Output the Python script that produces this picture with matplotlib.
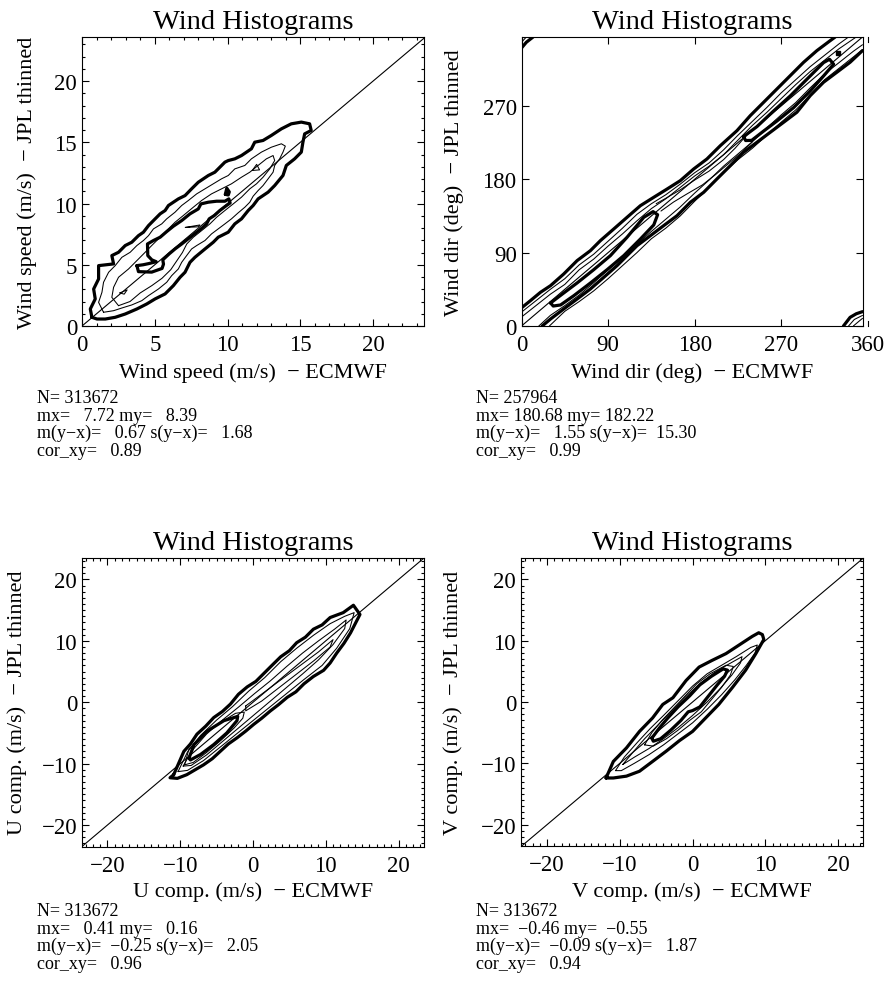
import matplotlib
matplotlib.use('Agg')
import matplotlib.pyplot as plt
import matplotlib.transforms as mtransforms
from matplotlib.ticker import MultipleLocator, NullLocator

plt.rcParams['font.family'] = ['Liberation Serif', 'DejaVu Serif']
plt.rcParams['axes.unicode_minus'] = True

# ---- text / stats ----
titles = ['Wind Histograms'] * 4
xlabels = ['Wind speed (m/s)  \u2212 ECMWF', 'Wind dir (deg)  \u2212 ECMWF',
           'U comp. (m/s)  \u2212 ECMWF', 'V comp. (m/s)  \u2212 ECMWF']
ylabels = ['Wind speed (m/s)  \u2212 JPL thinned', 'Wind dir (deg)  \u2212 JPL thinned',
           'U comp. (m/s)  \u2212 JPL thinned', 'V comp. (m/s)  \u2212 JPL thinned']
n_obs = [313672, 257964, 313672, 313672]
mean_x = [7.72, 180.68, 0.41, -0.46]
mean_y = [8.39, 182.22, 0.16, -0.55]
mean_diff = [0.67, 1.55, -0.25, -0.09]
std_diff = [1.68, 15.30, 2.05, 1.87]
cor_xy = [0.89, 0.99, 0.96, 0.94]

# ---- contour outlines (data units) ----
# wind speed
speed_c1 = [(0.68, 0.71), (0.57, 1.39), (0.91, 2.21), (0.80, 3.02), (1.14, 3.84), (1.14, 4.93),
            (2.17, 5.07), (2.05, 5.75), (2.51, 6.02), (2.97, 6.57), (3.42, 6.84), (3.88, 7.38),
            (4.22, 7.66), (4.57, 8.20), (4.91, 8.61), (5.37, 9.16), (5.71, 9.43), (5.94, 9.84),
            (6.62, 10.38), (7.08, 10.65), (7.53, 11.20), (7.99, 11.74), (8.68, 12.29), (9.13, 12.56),
            (9.82, 13.38), (10.05, 13.51), (10.50, 13.65), (10.96, 13.92), (11.64, 14.47),
            (11.87, 15.01), (12.44, 15.15), (13.01, 15.56), (13.70, 16.10), (14.38, 16.51),
            (15.07, 16.65), (15.64, 16.51), (15.75, 15.97), (15.30, 15.69), (15.18, 15.01),
            (15.07, 14.20), (14.61, 13.65), (14.04, 13.11), (13.81, 12.29), (13.24, 11.47),
            (12.79, 10.93), (12.10, 10.38), (11.76, 9.84), (11.42, 9.43), (10.96, 8.75),
            (10.50, 8.34), (10.05, 7.66), (9.36, 7.25), (9.02, 6.84), (8.45, 6.29), (7.76, 5.61),
            (7.42, 5.20), (7.08, 4.39), (6.74, 3.98), (6.28, 3.30), (5.71, 2.62), (5.02, 2.21),
            (4.45, 1.80), (3.77, 1.39), (2.97, 0.98), (2.28, 0.71), (1.60, 0.57), (1.03, 0.57)]
speed_c2 = [(1.48, 1.12), (1.14, 1.93), (1.37, 2.75), (1.48, 3.57), (1.83, 4.39), (2.28, 4.93),
            (2.74, 5.61), (3.31, 6.02), (3.77, 6.57), (4.22, 6.98), (4.57, 7.38), (4.91, 7.93),
            (5.48, 8.34), (5.82, 8.75), (6.39, 9.29), (6.85, 9.84), (7.31, 10.25), (7.88, 10.79),
            (8.45, 11.20), (9.02, 11.61), (9.59, 12.02), (10.05, 12.29), (10.50, 12.83),
            (11.19, 13.11), (11.64, 13.65), (12.33, 14.20), (13.01, 14.60), (13.70, 14.88),
            (13.97, 14.69), (13.81, 14.20), (13.58, 13.65), (13.24, 13.11), (13.13, 12.56),
            (12.79, 12.02), (12.44, 11.47), (12.10, 11.06), (11.76, 10.60), (11.53, 10.11),
            (11.19, 9.70), (10.73, 9.24), (10.27, 8.75), (9.82, 8.34), (9.36, 7.93), (8.90, 7.52),
            (8.45, 6.98), (7.88, 6.57), (7.53, 6.29), (7.19, 5.75), (6.85, 5.20), (6.62, 4.66),
            (6.16, 4.11), (5.82, 3.57), (5.25, 3.02), (4.57, 2.48), (4.11, 2.07), (3.42, 1.72),
            (2.74, 1.47), (2.17, 1.25)]
speed_c3 = [(2.51, 1.66), (2.05, 2.34), (2.17, 3.16), (2.51, 3.98), (3.20, 4.66), (3.77, 5.34),
            (4.34, 6.02), (4.79, 6.57), (5.25, 7.11), (5.82, 7.79), (6.39, 8.47), (6.96, 9.02),
            (7.65, 9.70), (8.22, 10.25), (8.90, 10.79), (9.59, 11.20), (10.27, 11.61),
            (10.96, 12.15), (11.53, 12.56), (12.10, 13.11), (12.67, 13.65), (13.13, 13.92),
            (13.24, 13.51), (12.90, 12.83), (12.44, 12.15), (11.99, 11.61), (11.53, 11.20),
            (10.96, 10.52), (10.39, 9.97), (9.82, 9.43), (9.25, 8.88), (8.79, 8.34), (8.22, 7.79),
            (7.65, 7.25), (7.20, 6.70), (6.90, 6.00), (6.50, 5.30), (6.10, 4.60), (5.50, 3.90),
            (4.80, 3.30), (4.00, 2.70), (3.30, 2.00)]
speed_c4 = [(3.77, 4.93), (3.88, 4.44), (4.79, 4.40), (5.50, 4.70), (5.60, 5.05), (5.55, 5.40),
            (6.00, 5.90), (6.40, 6.30), (6.85, 6.70), (7.35, 7.17), (7.88, 7.66), (8.26, 8.01),
            (8.56, 8.34), (8.74, 8.75), (9.09, 9.02), (9.47, 9.43), (9.86, 9.78), (10.18, 10.05),
            (10.09, 10.38), (9.82, 10.19), (9.25, 10.19), (8.68, 10.11), (8.17, 9.97),
            (7.99, 9.56), (7.42, 9.16), (6.85, 8.61), (6.28, 8.15), (5.82, 7.71), (5.37, 7.25),
            (4.91, 6.98), (4.50, 6.70), (4.52, 5.75), (4.80, 5.40), (5.10, 5.25), (4.60, 5.10),
            (4.20, 5.00)]
speed_spot_thick = [(9.85, 10.75), (9.95, 11.25), (10.12, 10.95), (10.05, 10.70)]
speed_spot_thin1 = [(11.7, 12.7), (12.0, 13.2), (12.2, 12.75)]
speed_spot_thin2 = [(7.1, 8.05), (8.1, 8.25), (8.0, 8.1)]
speed_spot_thin3 = [(2.6, 2.7), (3.1, 2.95), (2.9, 2.6)]

# wind direction (band contours, open at the plot edges)
dir_upper_c1 = [(0.7, 22.9), (9.3, 31.1), (19.7, 41.3), (30.2, 49.5), (43.9, 63.8), (57.8, 80.2),
                (71.6, 92.4), (82.0, 104.7), (95.9, 119.0), (109.7, 133.3), (123.6, 147.6),
                (137.4, 157.8), (151.3, 168.0), (165.1, 178.3), (179.0, 192.6), (192.8, 204.9),
                (206.7, 221.2), (224.0, 239.6), (237.8, 258.0), (251.7, 274.4), (265.5, 290.7),
                (279.4, 307.1), (293.2, 323.4), (307.1, 337.8), (320.9, 350.0), (326.1, 354.5)]
dir_lower_c1 = [(21.5, 0.0), (30.2, 8.6), (43.9, 20.9), (57.8, 33.1), (71.6, 45.4), (85.5, 59.7),
                (99.3, 74.0), (109.7, 86.3), (120.1, 98.5), (134.0, 110.8), (147.8, 123.1),
                (161.7, 135.3), (175.5, 151.7), (189.4, 164.0), (203.2, 180.4), (217.1, 196.7),
                (230.9, 213.1), (244.8, 225.4), (258.6, 237.6), (272.5, 249.9), (286.3, 262.2),
                (300.2, 282.6), (314.0, 299.0), (327.9, 311.3), (341.7, 323.6), (354.5, 337.8)]
dir_upper_c2 = [(0.0, 17.0), (15.0, 31.0), (30.0, 45.0), (45.0, 58.0), (60.0, 75.0),
                (75.0, 88.0), (90.0, 104.0), (105.0, 120.0), (120.0, 137.0), (135.0, 150.0),
                (150.0, 161.0), (165.0, 174.0), (180.0, 188.0), (195.0, 200.0), (210.0, 216.0),
                (225.0, 234.0), (240.0, 251.0), (255.0, 268.0), (270.0, 286.0), (285.0, 302.0),
                (300.0, 318.0), (315.0, 332.0), (330.0, 346.0), (340.0, 354.5)]
dir_upper_c3 = [(0.0, 11.0), (15.0, 25.0), (30.0, 39.0), (45.0, 51.0), (60.0, 69.0),
                (75.0, 82.0), (90.0, 98.0), (105.0, 113.0), (120.0, 129.0), (135.0, 144.0),
                (150.0, 156.0), (165.0, 170.0), (180.0, 184.0), (195.0, 196.0), (210.0, 210.0),
                (225.0, 228.0), (240.0, 246.0), (255.0, 262.0), (270.0, 279.0), (285.0, 296.0),
                (300.0, 312.0), (315.0, 326.0), (330.0, 340.0), (348.0, 354.5)]
dir_lower_c2 = [(29.0, 0.0), (45.0, 18.0), (60.0, 30.0), (75.0, 43.0), (90.0, 58.0),
                (105.0, 74.0), (120.0, 90.0), (135.0, 107.0), (150.0, 120.0), (165.0, 135.0),
                (180.0, 153.0), (195.0, 170.0), (210.0, 188.0), (225.0, 204.0), (240.0, 218.0),
                (255.0, 234.0), (270.0, 250.0), (285.0, 265.0), (300.0, 283.0), (315.0, 302.0),
                (330.0, 316.0), (345.0, 330.0), (354.5, 339.0)]
dir_lower_c3 = [(18.0, 0.0), (30.0, 13.0), (45.0, 25.0), (60.0, 38.0), (75.0, 53.0),
                (90.0, 69.0), (105.0, 84.0), (120.0, 100.0), (135.0, 116.0), (150.0, 131.0),
                (165.0, 146.0), (180.0, 163.0), (195.0, 179.0), (210.0, 196.0), (225.0, 211.0),
                (240.0, 226.0), (255.0, 243.0), (270.0, 259.0), (285.0, 274.0), (300.0, 292.0),
                (315.0, 309.0), (330.0, 323.0), (345.0, 337.0), (354.5, 345.0)]
dir_mid_thin1 = [(140.0, 150.0), (152.0, 158.0), (165.0, 167.0), (180.0, 179.0), (195.0, 190.0),
                 (210.0, 204.0), (222.0, 218.0), (234.0, 234.0)]
dir_mid_thin2 = [(145.0, 141.0), (158.0, 152.0), (172.0, 162.0), (188.0, 173.0), (202.0, 186.0),
                 (216.0, 200.0), (230.0, 214.0), (240.0, 226.0)]
dir_loop_low = [(30.2, 28.2), (43.9, 40.5), (57.8, 52.8), (75.1, 69.1), (92.4, 86.3),
                (109.7, 108.8), (127.1, 133.3), (136.8, 140.3), (141.5, 136.5), (137.5, 124.0),
                (123.6, 106.7), (106.3, 86.3), (89.0, 69.1), (71.7, 52.8), (54.4, 37.2),
                (40.6, 25.8), (33.0, 24.5)]
dir_loop_high = [(230.9, 232.4), (244.8, 244.6), (262.1, 263.8), (279.4, 282.2), (296.7, 302.7),
                 (314.0, 323.1), (320.2, 327.2), (324.5, 321.1), (314.1, 306.8), (300.2, 288.3),
                 (282.9, 267.9), (265.6, 251.5), (251.8, 239.2), (239.3, 227.7), (233.0, 227.5)]
dir_corner_thick = [[(0.0, 341.0), (5.0, 348.0), (12.0, 354.5)],
                    [(334.7, 0.0), (341.6, 10.6), (348.0, 15.0), (354.5, 17.6)]]
dir_corner_thin = [[(0.0, 348.0), (5.0, 354.5)],
                   [(345.0, 0.0), (350.0, 5.0), (354.5, 9.4)],
                   [(340.0, 0.0), (346.0, 8.0), (354.5, 13.0)]]
dir_dot = [(329.5, 335.0)]

# U component
u_c1 = [(-10.9, -11.8), (-9.5, -8.0), (-8.6, -6.8), (-7.7, -5.2), (-6.5, -3.9), (-5.4, -2.5),
        (-4.2, -1.5), (-3.1, -0.3), (-2.0, 1.3), (-0.8, 2.5), (0.4, 3.4), (1.5, 4.7), (2.6, 6.0),
        (3.8, 7.4), (5.0, 8.4), (6.0, 9.7), (7.2, 10.6), (8.3, 11.9), (9.5, 12.6), (10.6, 13.8),
        (12.4, 14.6), (13.8, 15.8), (14.7, 14.3), (13.4, 11.3), (12.5, 9.6), (11.5, 8.0),
        (10.6, 6.4), (9.7, 5.2), (8.3, 4.2), (7.0, 3.0), (5.9, 1.7), (4.7, 0.8), (3.5, -0.4),
        (2.4, -1.4), (1.2, -2.6), (0.1, -3.6), (-1.0, -4.7), (-2.2, -5.8), (-3.4, -6.8),
        (-4.5, -8.0), (-5.6, -9.2), (-6.8, -10.2), (-9.1, -11.8), (-10.4, -12.4), (-11.4, -12.3)]
u_c2 = [(-10.3, -11.3), (-9.0, -8.1), (-7.2, -5.4), (-5.0, -2.9), (-2.8, -0.7), (-0.6, 1.8),
        (1.6, 4.0), (3.8, 6.6), (6.0, 8.8), (8.3, 10.9), (10.6, 12.8), (12.6, 14.0), (13.9, 14.6),
        (13.3, 12.0), (11.5, 8.8), (9.5, 6.0), (7.0, 3.7), (4.7, 1.5), (2.4, -0.7), (0.1, -2.9),
        (-2.2, -5.1), (-4.5, -7.3), (-6.8, -9.5), (-9.0, -11.1)]
u_c3 = [(-9.6, -10.4), (-8.4, -7.9), (-6.4, -5.2), (-4.2, -2.9), (-2.0, -0.8), (0.2, 1.4),
        (2.4, 3.5), (4.6, 5.8), (6.8, 8.0), (9.0, 10.0), (11.2, 11.9), (12.8, 13.4),
        (12.6, 12.0), (11.0, 9.4), (9.0, 6.9), (6.8, 4.6), (4.6, 2.4), (2.4, 0.2), (0.2, -2.0),
        (-2.0, -4.2), (-4.2, -6.4), (-6.4, -8.6), (-8.5, -10.3)]
u_c4 = [(-9.4, -10.2), (-8.8, -7.6), (-7.0, -5.4), (-4.6, -3.4), (-2.4, -1.8), (-1.2, -1.6),
        (-1.4, -2.6), (-2.6, -4.2), (-4.4, -6.2), (-6.4, -8.2), (-8.2, -9.8)]
u_c5 = [(-8.8, -9.1), (-8.1, -6.9), (-6.3, -4.7), (-4.0, -3.0), (-2.1, -2.3), (-2.2, -3.0),
        (-3.6, -5.0), (-5.4, -6.9), (-7.2, -8.5), (-8.6, -9.4)]
u_c6 = [(-1.0, -0.6), (1.5, 1.6), (4.0, 3.8), (6.5, 6.0), (9.0, 8.2), (11.0, 10.2), (10.6, 9.0),
        (8.4, 6.8), (6.0, 4.6), (3.6, 2.4), (1.2, 0.2), (-1.0, -1.4)]

# V component
v_c1 = [(-11.9, -12.4), (-10.9, -9.7), (-9.1, -7.5), (-7.3, -4.8), (-5.5, -2.6), (-4.1, -0.4),
        (-2.7, 0.7), (-0.9, 3.5), (0.9, 5.7), (2.7, 6.8), (4.6, 7.9), (6.4, 9.3), (8.2, 10.7),
        (9.1, 11.3), (9.6, 11.0), (9.8, 10.2), (8.7, 7.9), (7.3, 5.2), (5.5, 2.4), (3.6, -0.4),
        (1.8, -2.6), (0.0, -4.8), (-1.8, -6.3), (-3.6, -8.0), (-5.5, -9.7), (-7.3, -11.3),
        (-9.1, -12.1), (-10.9, -12.4)]
v_c2 = [(-10.6, -11.2), (-9.4, -9.0), (-7.6, -6.6), (-5.8, -4.3), (-4.0, -2.2), (-2.0, 0.2),
        (0.0, 2.6), (2.0, 4.6), (4.0, 6.0), (6.0, 7.4), (8.0, 8.9), (8.9, 9.3), (8.6, 8.0),
        (7.4, 6.0), (5.8, 3.6), (4.0, 1.2), (2.0, -1.2), (0.0, -3.4), (-2.0, -5.2), (-4.0, -7.0),
        (-6.0, -8.6), (-8.0, -10.0), (-9.8, -11.2)]
v_c3 = [(-9.6, -10.2), (-8.2, -8.2), (-6.6, -6.0), (-4.8, -3.8), (-3.0, -1.6), (-1.0, 0.8),
        (1.0, 3.0), (3.0, 4.8), (5.0, 6.2), (6.8, 7.4), (6.6, 6.4), (5.4, 4.4), (3.8, 2.2),
        (2.0, 0.0), (0.0, -2.2), (-2.0, -4.2), (-4.0, -6.0), (-6.0, -7.6), (-8.0, -9.0)]
v_c4 = [(-5.6, -5.9), (-4.6, -4.3), (-3.4, -2.6), (-2.0, -0.8), (-0.4, 1.0), (1.0, 2.8),
        (2.6, 4.2), (4.2, 5.4), (4.8, 5.2), (4.4, 4.2), (3.4, 2.8), (2.2, 1.0), (1.0, -0.8),
        (0.0, -1.4), (-0.6, -1.6), (-1.6, -3.0), (-3.0, -4.6), (-4.4, -6.0), (-5.4, -6.4)]
v_c5 = [(-6.6, -7.0), (-5.6, -5.0), (-4.2, -3.0), (-2.6, -1.0), (-1.0, 1.0), (0.6, 3.0),
        (2.4, 4.6), (4.6, 6.0), (5.6, 5.8), (5.2, 4.4), (4.0, 2.4), (2.6, 0.4), (1.2, -1.6),
        (-0.4, -3.0), (-2.0, -4.6), (-3.6, -6.0), (-5.4, -7.2)]

W, H = 885, 987
THICK, THIN = 2.3, 0.75

fig = plt.figure(figsize=(W / 100, H / 100), dpi=100)


def rect(left, top, right, bottom):
    return [left / W, 1 - bottom / H, (right - left) / W, (bottom - top) / H]


def draw(ax, pts, lw, closed=True):
    xs = [p[0] for p in pts]
    ys = [p[1] for p in pts]
    if closed:
        xs.append(xs[0])
        ys.append(ys[0])
    ax.plot(xs, ys, color='black', lw=lw, solid_joinstyle='round', solid_capstyle='round')


def style(ax, lim_x, lim_y, major, minor):
    ax.set_xlim(lim_x)
    ax.set_ylim(lim_y)
    ax.xaxis.set_major_locator(MultipleLocator(major))
    ax.yaxis.set_major_locator(MultipleLocator(major))
    if minor:
        ax.xaxis.set_minor_locator(MultipleLocator(minor))
        ax.yaxis.set_minor_locator(MultipleLocator(minor))
    else:
        ax.xaxis.set_minor_locator(NullLocator())
        ax.yaxis.set_minor_locator(NullLocator())
    ax.tick_params(which='both', direction='in', top=True, right=True, width=0.8,
                   labelsize=16.5)
    ax.tick_params(which='major', length=5)
    ax.tick_params(which='minor', length=2.5)
    ax.tick_params(axis='x', pad=6)
    ax.tick_params(axis='y', pad=3.5)
    for s in ax.spines.values():
        s.set_linewidth(0.8)
    ax.axline((0, 0), slope=1, color='black', lw=0.8)


boxes = [rect(82, 38, 424, 327), rect(521.5, 38, 862.5, 327),
         rect(82, 559, 424, 847.5), rect(521, 559, 862.7, 847)]
axs = [fig.add_axes(b) for b in boxes]

# panel 1: wind speed
ax = axs[0]
style(ax, (0, 23.5), (0, 23.6), 5, 1)
for c in (speed_c1, speed_c4, speed_spot_thick):
    draw(ax, c, THICK)
for c in (speed_c2, speed_c3, speed_spot_thin1, speed_spot_thin2, speed_spot_thin3):
    draw(ax, c, THIN)

# panel 2: wind direction
ax = axs[1]
style(ax, (0, 354.5), (0, 354.5), 90, None)
for c in (dir_upper_c1, dir_lower_c1):
    draw(ax, c, THICK, closed=False)
for c in (dir_loop_low, dir_loop_high):
    draw(ax, c, THICK)
for c in (dir_upper_c2, dir_upper_c3, dir_lower_c2, dir_lower_c3, dir_mid_thin1, dir_mid_thin2):
    draw(ax, c, THIN, closed=False)
for c in dir_corner_thick:
    draw(ax, c, THICK, closed=False)
for c in dir_corner_thin:
    draw(ax, c, THIN, closed=False)
ax.plot([p[0] for p in dir_dot], [p[1] for p in dir_dot], 'ks', ms=2.5)
# the 360 tick lies just past the right edge of the box
tr = ax.get_xaxis_transform()
ax.plot([360, 360], [0, 0.018], color='black', lw=0.8, transform=tr, clip_on=False)
ax.plot([360, 360], [1, 0.982], color='black', lw=0.8, transform=tr, clip_on=False)
ax.text(360, 0, '360', ha='center', va='top', fontsize=16.5, clip_on=False,
        transform=tr + mtransforms.ScaledTranslation(0, -6 / 72, fig.dpi_scale_trans))

# panel 3: U component
ax = axs[2]
style(ax, (-23.5, 23.5), (-23.5, 23.5), 10, 1)
for c in (u_c1, u_c5):
    draw(ax, c, THICK)
for c in (u_c2, u_c3, u_c4, u_c6):
    draw(ax, c, THIN)

# panel 4: V component
ax = axs[3]
style(ax, (-23.6, 23.4), (-23.5, 23.5), 10, 1)
for c in (v_c1, v_c4):
    draw(ax, c, THICK)
for c in (v_c2, v_c3, v_c5):
    draw(ax, c, THIN)

# titles, axis labels and stats
xlab_base = [377.7, 377.7, 896.7, 896.7]
ylab_x = [27, 454, 17, 453]
stat_x = [37.3, 475.7, 37.3, 475.7]
stat_y0 = [403, 403, 916, 916]


def f72(v):
    return ('%7.2f' % v).replace('-', '\u2212')


for i, ax in enumerate(axs):
    ax.set_title(titles[i], fontsize=20.5, pad=6.3)
    l, b, w, h = boxes[i]
    cx = l + w / 2
    cy = b + h / 2
    fig.text(cx, 1 - xlab_base[i] / H, xlabels[i], ha='center', va='baseline', fontsize=16)
    fig.text(ylab_x[i] / W, cy, ylabels[i], ha='center', va='center', rotation=90, fontsize=16)
    lines = ['N=%7d' % n_obs[i],
             'mx=' + f72(mean_x[i]) + ' my=' + f72(mean_y[i]),
             'm(y\u2212x)=' + f72(mean_diff[i]) + ' s(y\u2212x)=' + f72(std_diff[i]),
             'cor_xy=' + f72(cor_xy[i])]
    for k, s in enumerate(lines):
        fig.text(stat_x[i] / W, 1 - (stat_y0[i] + 17.6 * k) / H, s, ha='left', va='baseline',
                 fontsize=13)

fig.savefig('out.png', dpi=100)
